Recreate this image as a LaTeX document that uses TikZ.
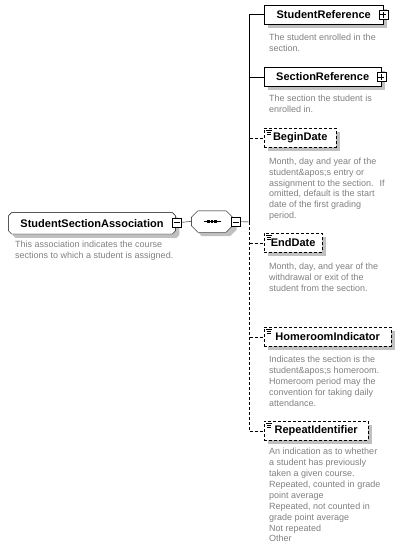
\documentclass[tikz,border=0pt]{standalone}
\usepackage{fontspec}
\setmainfont{Liberation Sans}
\usetikzlibrary{calc}
\usetikzlibrary{shadows}
\usetikzlibrary{backgrounds}

\definecolor{docGray}{RGB}{128,128,128}
\definecolor{shadowGray}{RGB}{192,192,192}

\tikzset{
	boxShadow/.style={drop shadow={shadow xshift=4pt, shadow yshift=-4pt, fill=shadowGray, opacity=1}},
	elemBox/.style={draw, fill=white, boxShadow, anchor=north west, minimum height=19pt, inner sep=0pt,
		font=\fontsize{11}{13}\selectfont\bfseries},
	optBox/.style={elemBox, dash pattern=on 3pt off 2pt, path picture={
		\draw[solid, line width=0.6pt] ([xshift=2pt, yshift=-2.5pt]path picture bounding box.north west) -- ++(5.5pt,0pt);
		\draw[solid, line width=0.6pt] ([xshift=2.5pt, yshift=-4.5pt]path picture bounding box.north west) -- ++(4.5pt,0pt);
		\draw[solid, line width=0.6pt] ([xshift=2.5pt, yshift=-6.5pt]path picture bounding box.north west) -- ++(4.5pt,0pt);}},
	rootBox/.style={minimum width=166pt, minimum height=20.5pt, inner sep=0pt, font=\fontsize{11}{13}\selectfont\bfseries},
	seqBox/.style={minimum width=41pt, minimum height=21pt, inner sep=0pt},
	toggleBox/.style={draw, fill=white, minimum size=9pt, inner sep=0pt},
	plusBox/.style={toggleBox, path picture={
		\draw ([xshift=-3pt]path picture bounding box.center) -- ([xshift=3pt]path picture bounding box.center);
		\draw ([yshift=-3pt]path picture bounding box.center) -- ([yshift=3pt]path picture bounding box.center);}},
	minusBox/.style={toggleBox, path picture={
		\draw ([xshift=-3pt]path picture bounding box.center) -- ([xshift=3pt]path picture bounding box.center);}},
	optLine/.style={dash pattern=on 3pt off 2pt},
	docText/.style={anchor=north west, align=left, inner sep=0pt, text=docGray, font=\fontsize{9}{10.9}\selectfont}
}

\newcommand{\drawElement}[5]{
	\node[#5, minimum width=#3pt] (#1) at (264,#2) {#4};
}
\newcommand{\drawChamfer}[2]{
	\begin{pgfonlayer}{background}
		\filldraw[fill=white, boxShadow] ([xshift=#2]#1.north west) -- ([xshift=-#2]#1.north east)
			-- ([yshift=-#2]#1.north east) -- ([yshift=#2]#1.south east)
			-- ([xshift=-#2]#1.south east) -- ([xshift=#2]#1.south west)
			-- ([yshift=#2]#1.south west) -- ([yshift=-#2]#1.north west) -- cycle;
	\end{pgfonlayer}
}

\begin{document}
\begin{tikzpicture}[x=1pt, y=-1pt, line width=0.8pt]
	\useasboundingbox (0,0) rectangle (405,551);

	\node[rootBox] (root) at (92,223.3) {StudentSectionAssociation};
	\drawChamfer{root}{3pt}
	\node[minusBox] (rootMinus) at (176.7,222.3) {};
	\node[docText] (rootDoc) at (15,241) {This association indicates the course\\sections to which a student is assigned.};

	\node[seqBox] (seq) at (212,221.5) {};
	\drawChamfer{seq}{6.5pt}
	\draw ([xshift=-8.5pt]seq.center) -- ([xshift=8.5pt]seq.center);
	\foreach \dx in {-4.75,-1.25,2.25}
		\fill ([xshift=\dx pt]seq.center) ++(0pt,-1.25pt) rectangle ++(2.5pt,2.5pt);
	\node[minusBox] (seqMinus) at (235.8,221.7) {};
	\coordinate (seqJoin) at (249.5,222);

	\drawElement{stuRef}{5}{119}{StudentReference}{elemBox}
	\drawElement{secRef}{67}{117}{SectionReference}{elemBox}
	\drawElement{beginDate}{128}{72}{BeginDate}{optBox}
	\drawElement{endDate}{233}{58}{EndDate}{optBox}
	\drawElement{homeroom}{327}{127}{HomeroomIndicator}{optBox}
	\drawElement{repeatId}{421}{104}{RepeatIdentifier}{optBox}
	\node[plusBox] (stuRefPlus) at (stuRef.east) {};
	\node[plusBox] (secRefPlus) at (secRef.east) {};

	\draw (rootMinus.east) -- (seq.west);
	\draw (seqMinus.east) -- (seqJoin);
	\draw (seqJoin) |- (stuRef.west);
	\draw (seqJoin) |- (secRef.west);
	\draw[optLine] (seqJoin |- beginDate.west) -- (beginDate.west);
	\draw[optLine] (seqJoin) -- (seqJoin |- repeatId.west);
	\foreach \n in {endDate,homeroom,repeatId}
		\draw[optLine] (seqJoin |- \n.west) -- (\n.west);

	\node[docText] (stuRefDoc) at (269,34) {The student enrolled in the\\section.};
	\node[docText] (secRefDoc) at (269,95) {The section the student is\\enrolled in.};
	\node[docText] (beginDateDoc) at (269,157.5) {Month, day and year of the\\student\&apos;s entry or\\assignment to the section.~ If\\omitted, default is the start\\date of the first grading\\period.};
	\node[docText] (endDateDoc) at (269,262.5) {Month, day, and year of the\\withdrawal or exit of the\\student from the section.};
	\node[docText] (homeroomDoc) at (269,356) {Indicates the section is the\\student\&apos;s homeroom.\\Homeroom period may the\\convention for taking daily\\attendance.};
	\node[docText] (repeatIdDoc) at (269,448) {An indication as to whether\\a student has previously\\taken a given course.\\Repeated, counted in grade\\point average\\Repeated, not counted in\\grade point average\\Not repeated\\Other};
\end{tikzpicture}
\end{document}
